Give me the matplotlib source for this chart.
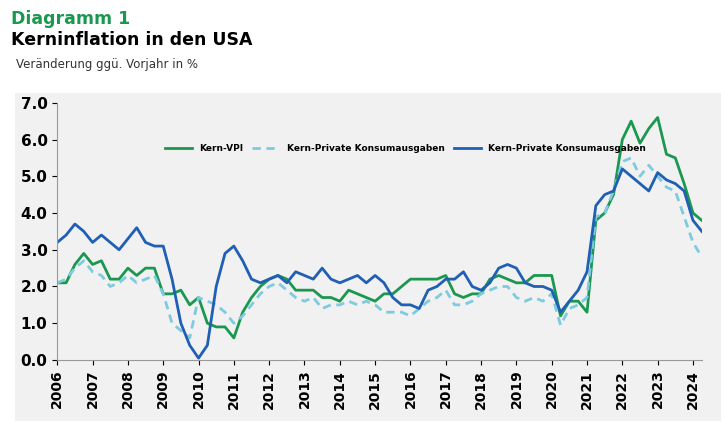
import matplotlib.pyplot as plt
import numpy as np
from matplotlib.patches import Rectangle

cpi = [2.1,2.1,2.6,2.9, 2.6,2.7,2.2,2.2, 2.5,2.3,2.5,2.5, 1.8,1.8,1.9,1.5,
       1.7,1.0,0.9,0.9, 0.6,1.3,1.7,2.0, 2.2,2.3,2.2,1.9, 1.9,1.9,1.7,1.7,
       1.6,1.9,1.8,1.7, 1.6,1.8,1.8,2.0, 2.2,2.2,2.2,2.2, 2.3,1.8,1.7,1.8,
       1.8,2.2,2.3,2.2, 2.1,2.1,2.3,2.3, 2.3,1.2,1.6,1.6, 1.3,3.8,4.0,4.5,
       6.0,6.5,5.9,6.3, 6.6,5.6,5.5,4.8, 4.0,3.8]
pce = [2.1,2.2,2.5,2.7, 2.4,2.3,2.0,2.1, 2.3,2.1,2.2,2.3, 1.8,1.0,0.8,0.6,
       1.7,1.6,1.5,1.3, 1.0,1.2,1.5,1.8, 2.0,2.1,1.9,1.7, 1.6,1.7,1.4,1.5,
       1.5,1.6,1.5,1.6, 1.5,1.3,1.3,1.3, 1.2,1.4,1.6,1.7, 1.9,1.5,1.5,1.6,
       1.8,1.9,2.0,2.0, 1.7,1.6,1.7,1.6, 1.8,0.95,1.4,1.5, 1.7,3.9,4.0,4.6,
       5.4,5.5,5.0,5.3, 5.0,4.7,4.6,3.9, 3.2,2.8]
pce2 = [3.2,3.4,3.7,3.5, 3.2,3.4,3.2,3.0, 3.3,3.6,3.2,3.1, 3.1,2.2,1.0,0.4,
        0.05,0.4,2.0,2.9, 3.1,2.7,2.2,2.1, 2.2,2.3,2.1,2.4, 2.3,2.2,2.5,2.2,
        2.1,2.2,2.3,2.1, 2.3,2.1,1.7,1.5, 1.5,1.4,1.9,2.0, 2.2,2.2,2.4,2.0,
        1.9,2.1,2.5,2.6, 2.5,2.1,2.0,2.0, 1.9,1.3,1.6,1.9, 2.4,4.2,4.5,4.6,
        5.2,5.0,4.8,4.6, 5.1,4.9,4.8,4.6, 3.8,3.5]
years = list(range(2006, 2025))
t = 2006 + np.arange(len(cpi)) / 4

fig = plt.figure(figsize=(7.25, 4.23), dpi=100)
fig.patches.append(Rectangle((0.02, 0.005), 0.975, 0.775, transform=fig.transFigure,
                             facecolor='#f1f1f1', edgecolor='none', zorder=-1))
fig.text(0.015, 0.955, 'Diagramm 1', color='#1a9850', fontsize=12.5, fontweight='bold', va='center')
fig.text(0.015, 0.905, 'Kerninflation in den USA', color='black', fontsize=12.5, fontweight='bold', va='center')
fig.text(0.022, 0.848, 'Veränderung ggü. Vorjahr in %', color='#333333', fontsize=8.5, va='center')

ax = fig.add_axes([0.079, 0.149, 0.889, 0.608])
ax.set_facecolor('#f1f1f1')
ax.plot(t, cpi, color='#1a9850', lw=2, label='Kern-VPI')
ax.plot(t, pce, color='#7ecbe0', lw=2, ls=(0, (3, 2)), label='Kern-Private Konsumausgaben')
ax.plot(t, pce2, color='#1f5fb4', lw=2, label='Kern-Private Konsumausgaben')
ax.set_xlim(2006, 2024.25)
ax.set_ylim(0, 7)
ax.set_yticks(np.arange(0, 7.1, 1))
ax.set_yticklabels([f'{v:.1f}' for v in np.arange(0, 7.1, 1)], fontsize=11, fontweight='bold')
ax.set_xticks(years)
ax.set_xticklabels([str(y) for y in years], rotation=90, fontsize=10, fontweight='bold')
for s in ['top', 'right']:
    ax.spines[s].set_visible(False)
ax.spines['left'].set_color('#999999')
ax.spines['bottom'].set_color('#999999')
ax.legend(loc='upper center', bbox_to_anchor=(0.54, 0.87), ncol=3, frameon=False,
          prop={'size': 6.5, 'weight': 'bold'}, handlelength=3, columnspacing=1)
fig.savefig('out.png', dpi=100)
